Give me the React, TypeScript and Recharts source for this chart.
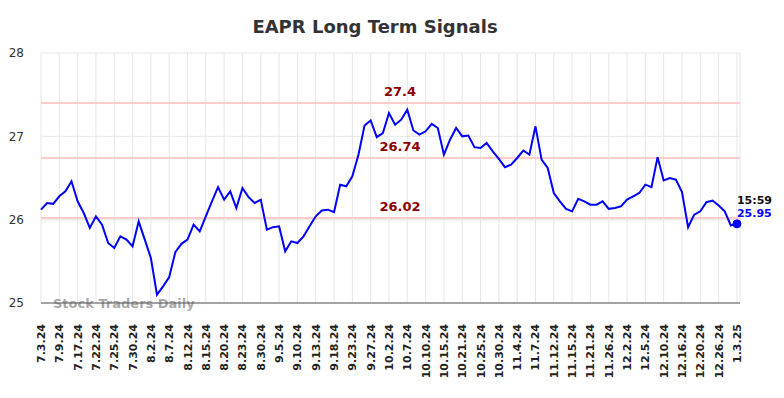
import React from 'react';
import { LineChart, Line, XAxis, YAxis, CartesianGrid, ReferenceLine, Customized } from 'recharts';

const tickLabels = [
  '7.3.24', '7.9.24', '7.17.24', '7.22.24', '7.25.24', '7.30.24', '8.2.24', '8.7.24', '8.12.24', '8.15.24',
  '8.20.24', '8.23.24', '8.30.24', '9.5.24', '9.10.24', '9.13.24', '9.18.24', '9.23.24', '9.27.24', '10.2.24',
  '10.7.24', '10.10.24', '10.15.24', '10.21.24', '10.25.24', '10.30.24', '11.4.24', '11.7.24', '11.12.24', '11.15.24',
  '11.21.24', '11.26.24', '12.2.24', '12.5.24', '12.10.24', '12.16.24', '12.20.24', '12.26.24', '1.3.25',
];

const prices = [
  26.12, 26.2, 26.19, 26.28, 26.34, 26.46, 26.22, 26.08, 25.9, 26.04,
  25.94, 25.72, 25.66, 25.8, 25.76, 25.68, 25.98, 25.76, 25.54, 25.1,
  25.2, 25.31, 25.61, 25.71, 25.76, 25.94, 25.86, 26.04, 26.22, 26.39,
  26.24, 26.34, 26.14, 26.38, 26.27, 26.2, 26.24, 25.88, 25.91, 25.92,
  25.62, 25.74, 25.72, 25.8, 25.92, 26.04, 26.11, 26.12, 26.09, 26.42,
  26.4, 26.52, 26.78, 27.13, 27.19, 26.99, 27.04, 27.28, 27.14, 27.2,
  27.32, 27.07, 27.02, 27.06, 27.15, 27.1, 26.78, 26.96, 27.1, 27.0,
  27.01, 26.87, 26.86, 26.92, 26.82, 26.73, 26.63, 26.66, 26.74, 26.83,
  26.78, 27.12, 26.72, 26.62, 26.32, 26.22, 26.13, 26.1, 26.25, 26.22,
  26.18, 26.18, 26.22, 26.13, 26.14, 26.16, 26.24, 26.28, 26.32, 26.42,
  26.39, 26.75, 26.47, 26.5, 26.48, 26.33, 25.91, 26.06, 26.1, 26.21,
  26.23, 26.17, 26.1, 25.93, 25.95,
];

const signalLevels = [27.4, 26.74, 26.02];
const signalLabels = ['27.4', '26.74', '26.02'];
const yTicks = [25, 26, 27, 28];
const lastTime = '15:59';
const lastValue = '25.95';
const title = 'EAPR Long Term Signals';
const watermark = 'Stock Traders Daily';

const data = prices.map((v, i) => ({ i, v }));
const xTicks = tickLabels.map((_, k) => k * 3);
const FONT = '"DejaVu Sans", sans-serif';

const XTick = (props: any) => {
  const { x, y, payload } = props;
  const label = tickLabels[Math.round(payload.value / 3)] ?? '';
  return (
    <g transform={`translate(${x},${y})`}>
      <text
        x={0}
        y={0}
        dx={-13}
        dy={4}
        transform="rotate(-90)"
        textAnchor="end"
        fontFamily={FONT}
        fontSize={11}
        fontWeight="bold"
        fill="#222"
      >
        {label}
      </text>
    </g>
  );
};

const LastDot = (props: any) => {
  const { cx, cy, index } = props;
  if (index !== prices.length - 1) return <g key={index} />;
  return (
    <g key={index}>
      <circle cx={cx} cy={cy} r={4} fill="#0000ff" stroke="#0000ff" />
      <text x={cx} y={cy - 20} fontFamily={FONT} fontSize={11} fontWeight="bold" fill="#111">
        {lastTime}
      </text>
      <text x={cx} y={cy - 7} fontFamily={FONT} fontSize={11} fontWeight="bold" fill="#0000ff">
        {lastValue}
      </text>
    </g>
  );
};

const Overlay = () => (
  <g>
    <text x={375} y={33} textAnchor="middle" fontFamily={FONT} fontSize={18} fontWeight="bold" fill="#333">
      {title}
    </text>
    <text x={53} y={308} fontFamily={FONT} fontSize={13} fontWeight="bold" fill="#999" fillOpacity={0.85}>
      {watermark}
    </text>
  </g>
);

const makeLabel = (text: string) => (props: any) => {
  const { viewBox } = props;
  return (
    <text
      x={viewBox.x + 359}
      y={viewBox.y - 7}
      textAnchor="middle"
      fontFamily={FONT}
      fontSize={13}
      fontWeight="bold"
      fill="#8b0000"
    >
      {text}
    </text>
  );
};

export default function App() {
  return (
    <div style={{ position: 'absolute', left: 0, top: 0, width: 784, height: 398, background: '#fff' }}>
      <LineChart width={784} height={398} data={data} margin={{ top: 53, right: 44, bottom: 0, left: 0 }}>
        <CartesianGrid stroke="#e6e6e6" strokeWidth={1} />
        <XAxis
          dataKey="i"
          type="number"
          domain={[0, 114.5]}
          ticks={xTicks}
          interval={0}
          tick={<XTick />}
          tickLine={false}
          height={95}
          axisLine={{ stroke: '#555', strokeWidth: 1 }}
        />
        <YAxis
          type="number"
          domain={[25, 28]}
          ticks={yTicks}
          width={41}
          axisLine={false}
          tickLine={false}
          tickSize={0}
          tickMargin={17}
          tick={{ fontFamily: FONT, fontSize: 12, fill: '#333' }}
        />
        {signalLevels.map((lv, k) => (
          <ReferenceLine
            key={lv}
            y={lv}
            stroke="#ffcccc"
            strokeWidth={2}
            label={makeLabel(signalLabels[k])}
          />
        ))}
        <Line
          type="linear"
          dataKey="v"
          stroke="#0000ff"
          strokeWidth={2}
          dot={<LastDot />}
          activeDot={false}
          isAnimationActive={false}
        />
        <Customized component={Overlay} />
      </LineChart>
    </div>
  );
}
